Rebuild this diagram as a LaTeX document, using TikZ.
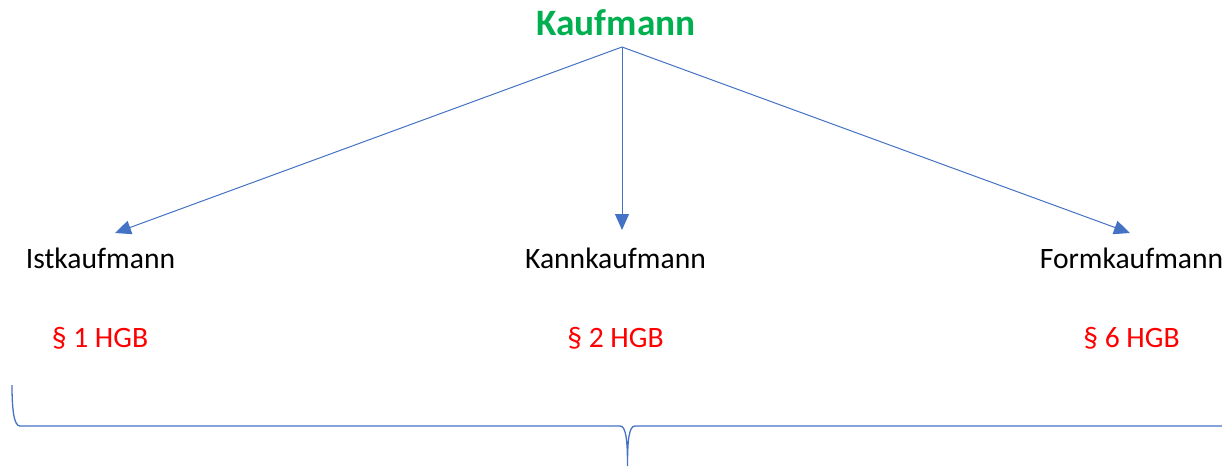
\documentclass[tikz,border=0pt]{standalone}
\usepackage{fontspec}
\setmainfont{Carlito}
\usetikzlibrary{arrows.meta}
\definecolor{kgreen}{RGB}{0,176,80}
\definecolor{kblue}{RGB}{68,114,196}
\definecolor{kred}{RGB}{255,0,0}
\begin{document}
\begin{tikzpicture}[x=1pt,y=-1pt,
  title/.style={font=\fontsize{37.3}{44}\selectfont\bfseries, text=kgreen, anchor=base, inner sep=0pt},
  kind/.style={font=\fontsize{29.6}{35}\selectfont, text=black, anchor=base, inner sep=0pt},
  para/.style={font=\fontsize{29.6}{35}\selectfont, text=kred, anchor=base, inner sep=0pt},
  conn/.style={draw=kblue, line width=1pt, -{Triangle[length=16pt,width=14pt]}},
  bracel/.style={draw=kblue, line width=1.3pt}]
\useasboundingbox (0,0) rectangle (1222,466);
\node[title] (k) at (616,35) {Kaufmann};
\coordinate (top) at (622,47);
\coordinate (t1) at (115,233);
\coordinate (t2) at (622,230);
\coordinate (t3) at (1130,233);
\node[kind] (i) at (100.5,268) {Istkaufmann};
\node[kind] (kk) at (615.5,268) {Kannkaufmann};
\node[kind] (f) at (1131.5,268) {Formkaufmann};
\node[para] (p1) at (100,347) {§ 1 HGB};
\node[para] (p2) at (615.5,347) {§ 2 HGB};
\node[para] (p6) at (1131.5,347) {§ 6 HGB};
\draw[conn] (top) -- (t1);
\draw[conn] (top) -- (t2);
\draw[conn] (top) -- (t3);
\coordinate (bl) at (12,385);
\coordinate (bm) at (627.5,466);
\coordinate (br) at (1222,426);
\draw[bracel] (bl) .. controls (12,410) and (14,426) .. (20,426) -- (620,426)
  .. controls (626,426) and (627.5,440) .. (bm)
  .. controls (627.5,440) and (629,426) .. (635,426) -- (br);
\end{tikzpicture}
\end{document}
